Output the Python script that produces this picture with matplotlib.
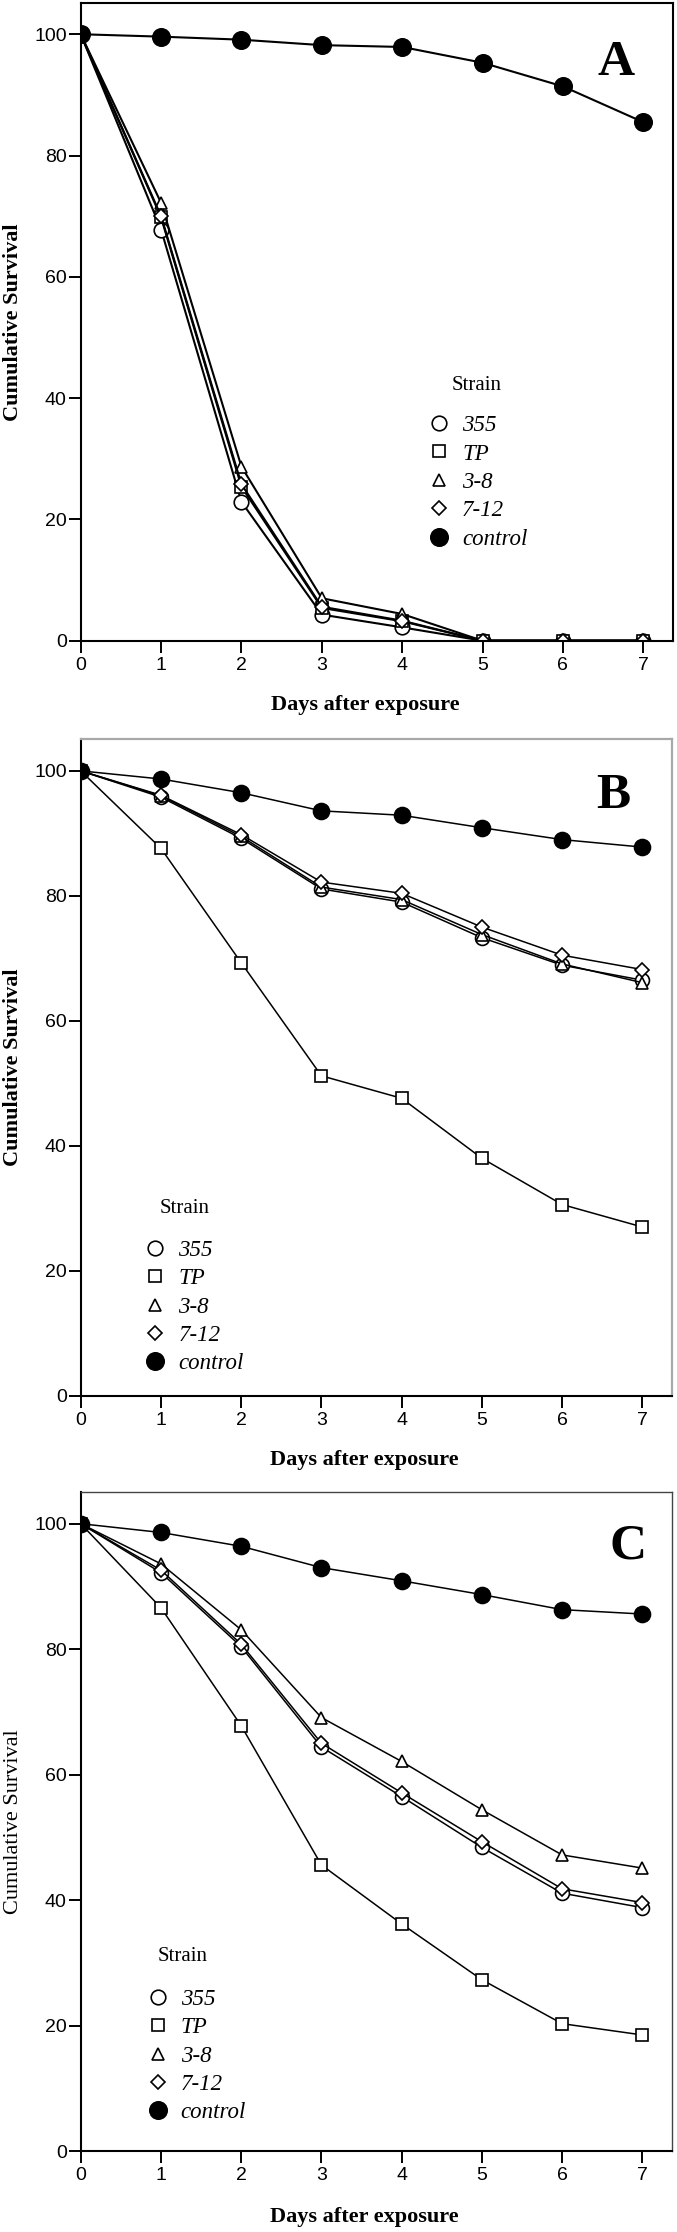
import matplotlib
matplotlib.use('Agg')
import matplotlib.pyplot as plt
from matplotlib.lines import Line2D
from matplotlib.transforms import offset_copy

# ---------------- data ----------------
days = [0, 1, 2, 3, 4, 5, 6, 7]
strains = ['355', 'TP', '3-8', '7-12', 'control']
xticks = [0, 1, 2, 3, 4, 5, 6, 7]
yticks = [0, 20, 40, 60, 80, 100]

# Panel A
a_355 = [100, 67.8, 22.9, 4.3, 2.2, 0, 0, 0]
a_tp = [100, 69.8, 25.4, 5.4, 3.2, 0, 0, 0]
a_38 = [100, 72.2, 28.7, 7.0, 4.4, 0, 0, 0]
a_712 = [100, 70.0, 25.8, 5.6, 3.3, 0, 0, 0]
a_ctrl = [100, 99.6, 99.1, 98.2, 97.9, 95.3, 91.4, 85.5]

# Panel B
b_355 = [100, 95.8, 89.2, 81.1, 79.0, 73.3, 68.9, 66.5]
b_tp = [100, 87.6, 69.3, 51.2, 47.6, 38.0, 30.6, 27.0]
b_38 = [100, 96.0, 89.5, 81.4, 79.4, 73.8, 69.1, 66.1]
b_712 = [100, 96.1, 89.8, 82.2, 80.4, 75.0, 70.5, 68.2]
b_ctrl = [100, 98.7, 96.5, 93.6, 92.9, 90.9, 89.0, 87.8]

# Panel C
c_355 = [100, 92.2, 80.4, 64.4, 56.5, 48.4, 41.1, 38.8]
c_tp = [100, 86.6, 67.8, 45.6, 36.2, 27.3, 20.3, 18.5]
c_38 = [100, 93.6, 83.1, 69.1, 62.1, 54.4, 47.2, 45.1]
c_712 = [100, 92.6, 80.8, 65.0, 57.1, 49.3, 41.8, 39.6]
c_ctrl = [100, 98.6, 96.4, 93.0, 90.9, 88.7, 86.3, 85.6]

panel_letters = ['A', 'B', 'C']
xlabel = 'Days after exposure'
ylabel = 'Cumulative Survival'
legend_title = 'Strain'

# ---------------- style ----------------
plt.rcParams['font.family'] = ['Liberation Sans', 'DejaVu Sans']
SERIF = 'Liberation Serif'
W, H = 677, 2232
fig = plt.figure(figsize=(W / 100, H / 100), dpi=100)


def add_axes(l, r, t, b):
    return fig.add_axes([l / W, 1 - b / H, (r - l) / W, (b - t) / H])


def marker_style(name, big):
    if name == '355':
        return dict(marker='o', mfc='white', ms=10.5 if big else 10)
    if name == 'TP':
        return dict(marker='s', mfc='white', ms=9 if big else 8.5)
    if name == '3-8':
        return dict(marker='^', mfc='white', ms=9 if big else 8.5)
    if name == '7-12':
        return dict(marker='D', mfc='white', ms=7.6 if big else 7.2)
    return dict(marker='o', mfc='black', ms=12.5 if big else 11.5)


def draw_panel(ax, series, letter, letter_pos, leg_marker_x, leg_first_y, title_pos,
               lw, big, ylabel_bold, top_color, top_lw, xlab_y):
    for name, vals in zip(strains, series):
        st = marker_style(name, big)
        ax.plot(days, vals, color='black', lw=lw, mec='black', mew=1.2,
                zorder=3 if name == 'control' else 2, **st)
    ax.set_xlim(0, 7.37)
    ax.set_ylim(0, 105.1)
    ax.set_xticks(xticks)
    ax.set_yticks(yticks)
    ax.tick_params(direction='out', length=8.6, width=1.4, labelsize=14, color='black')
    ax.tick_params(axis='x', pad=3)
    ax.tick_params(axis='y', pad=1.5)
    for s in ['left', 'bottom']:
        ax.spines[s].set_linewidth(1.5)
        ax.spines[s].set_color('black')
    for s in ['top', 'right']:
        ax.spines[s].set_linewidth(top_lw)
        ax.spines[s].set_color(top_color)
    ax.set_xlabel(xlabel, fontfamily=SERIF, fontweight='bold', fontsize=16)
    ax.xaxis.set_label_coords(0.48, xlab_y)
    ax.set_ylabel(ylabel, fontfamily=SERIF, fontweight='bold' if ylabel_bold else 'normal',
                  fontsize=16)
    ax.yaxis.set_label_coords(-0.097, 0.5)
    ax.text(letter_pos[0], letter_pos[1], letter, fontfamily=SERIF, fontweight='bold',
            fontsize=37, ha='center', va='center')
    # legend
    handles = []
    for name in strains:
        st = marker_style(name, True)
        handles.append(Line2D([], [], ls='none', mec='black', mew=1.2, color='black', **st))
    fs = 16.5
    hl = 1.0
    rowh_pt = fs * 0.9
    tr = offset_copy(ax.transData, fig=fig, x=-hl * fs / 2, y=rowh_pt / 2, units='points')
    ax.legend(handles, strains, loc='upper left', bbox_to_anchor=(leg_marker_x, leg_first_y),
              bbox_transform=tr, frameon=False, borderpad=0, borderaxespad=0,
              handlelength=hl, handletextpad=0.5, labelspacing=0.32, numpoints=1,
              prop={'family': SERIF, 'style': 'italic', 'size': fs})
    ax.text(title_pos[0], title_pos[1], legend_title, fontfamily=SERIF, fontsize=15,
            ha='center', va='center')


axA = add_axes(80.7, 673, 3.3, 640.7)
axB = add_axes(80.7, 672, 739, 1395.7)
axC = add_axes(80.7, 672, 1491.7, 2151)

draw_panel(axA, [a_355, a_tp, a_38, a_712, a_ctrl], 'A', (6.66, 95.2), 4.46, 35.5, (4.93, 42.0),
           1.5, True, True, 'black', 1.5, -0.085)
draw_panel(axB, [b_355, b_tp, b_38, b_712, b_ctrl], 'B', (6.64, 95.9), 0.93, 23.3, (1.29, 30.0),
           1.1, False, True, '#a8a8a8', 1.6, -0.082)
draw_panel(axC, [c_355, c_tp, c_38, c_712, c_ctrl], 'C', (6.82, 96.3), 0.96, 24.2, (1.27, 31.0),
           1.1, False, False, '#444444', 1.0, -0.085)

fig.savefig('out.png', dpi=100)
